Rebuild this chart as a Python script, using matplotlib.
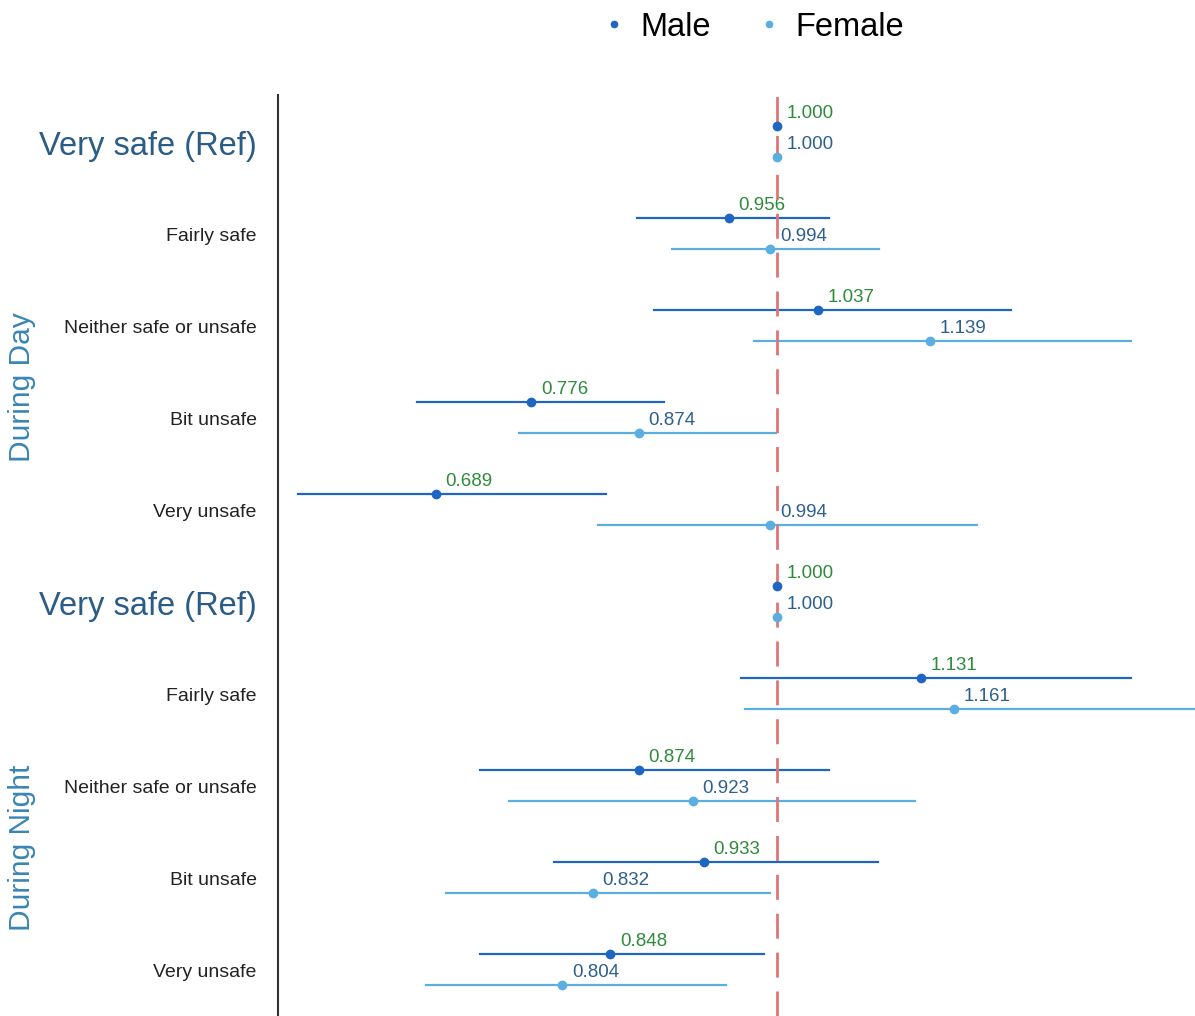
import matplotlib.pyplot as plt

# data
categories = ["Very safe (Ref)", "Fairly safe", "Neither safe or unsafe", "Bit unsafe", "Very unsafe"]
periods = ["During Day", "During Night"]

male_or = [1.000, 0.956, 1.037, 0.776, 0.689,
           1.000, 1.131, 0.874, 0.933, 0.848]
male_lo = [1.000, 0.872, 0.888, 0.672, 0.563,
           1.000, 0.967, 0.729, 0.797, 0.729]
male_hi = [1.000, 1.047, 1.213, 0.897, 0.844,
           1.000, 1.323, 1.047, 1.092, 0.988]

female_or = [1.000, 0.994, 1.139, 0.874, 0.994,
             1.000, 1.161, 0.923, 0.832, 0.804]
female_lo = [1.000, 0.904, 0.979, 0.765, 0.837,
             1.000, 0.971, 0.756, 0.698, 0.680]
female_hi = [1.000, 1.093, 1.323, 0.999, 1.182,
             1.000, 1.400, 1.126, 0.994, 0.953]

male_col = "#1f66c2"
female_col = "#5aaee0"
male_txt = "#2e8b3a"
female_txt = "#2d5f8e"
ref_col = "#2a5c85"

plt.rcParams['font.family'] = ['Liberation Sans', 'DejaVu Sans']

fig = plt.figure(figsize=(11.95, 10.16), dpi=100)
ax = fig.add_axes([0.2326, 0.0, 0.7674, 0.9065])

off = 31 / 92
for i in range(len(male_or)):
    ym = i
    yf = i + off
    ax.plot([male_lo[i], male_hi[i]], [ym, ym], color=male_col, lw=1.6, zorder=2)
    ax.plot([female_lo[i], female_hi[i]], [yf, yf], color=female_col, lw=1.6, zorder=2)
    ax.plot(male_or[i], ym, 'o', color=male_col, ms=6, zorder=4)
    ax.plot(female_or[i], yf, 'o', color=female_col, ms=6, zorder=4)
    ax.annotate(f"{male_or[i]:.3f}", (male_or[i], ym), xytext=(7, 3),
                textcoords='offset points', fontsize=13.5, color=male_txt,
                va='bottom', ha='left')
    ax.annotate(f"{female_or[i]:.3f}", (female_or[i], yf), xytext=(7, 3),
                textcoords='offset points', fontsize=13.5, color=female_txt,
                va='bottom', ha='left')

ax.axvline(1.0, color="#e07575", lw=2, ls=(0, (9, 5)), zorder=3)

ax.set_xlim(0.545, 1.381)
ax.set_ylim(9.674, -off)
ax.set_xticks([])
ax.set_yticks([])
for s in ['top', 'right', 'bottom']:
    ax.spines[s].set_visible(False)
ax.spines['left'].set_linewidth(1.5)
ax.spines['left'].set_color("#333333")

# row labels
for i in range(len(male_or)):
    cat = categories[i % 5]
    if i % 5 == 0:
        ax.text(-0.023, i + off / 2 + 0.05, cat, transform=ax.get_yaxis_transform(),
                ha='right', va='center', fontsize=23.5, color=ref_col)
    else:
        ax.text(-0.023, i + off / 2 + 0.035, cat, transform=ax.get_yaxis_transform(),
                ha='right', va='center', fontsize=14, color="#222222")

# period labels
fig.text(22 / 1195, 1 - 387 / 1016, periods[0], rotation=90, ha='center', va='center',
         fontsize=21.5, color="#3a85b5")
fig.text(22 / 1195, 1 - 848 / 1016, periods[1], rotation=90, ha='center', va='center',
         fontsize=21.5, color="#3a85b5")

# legend
h1, = ax.plot([], [], 'o', color=male_col, ms=4.5, label="Male")
h2, = ax.plot([], [], 'o', color=female_col, ms=4.5, label="Female")
fig.legend(handles=[h1, h2], loc='center', bbox_to_anchor=(751 / 1195, 1 - 27 / 1016),
           ncol=2, frameon=False, fontsize=23.5, handlelength=1, handletextpad=0.3,
           columnspacing=1.3)

fig.savefig("out.png", dpi=100)
